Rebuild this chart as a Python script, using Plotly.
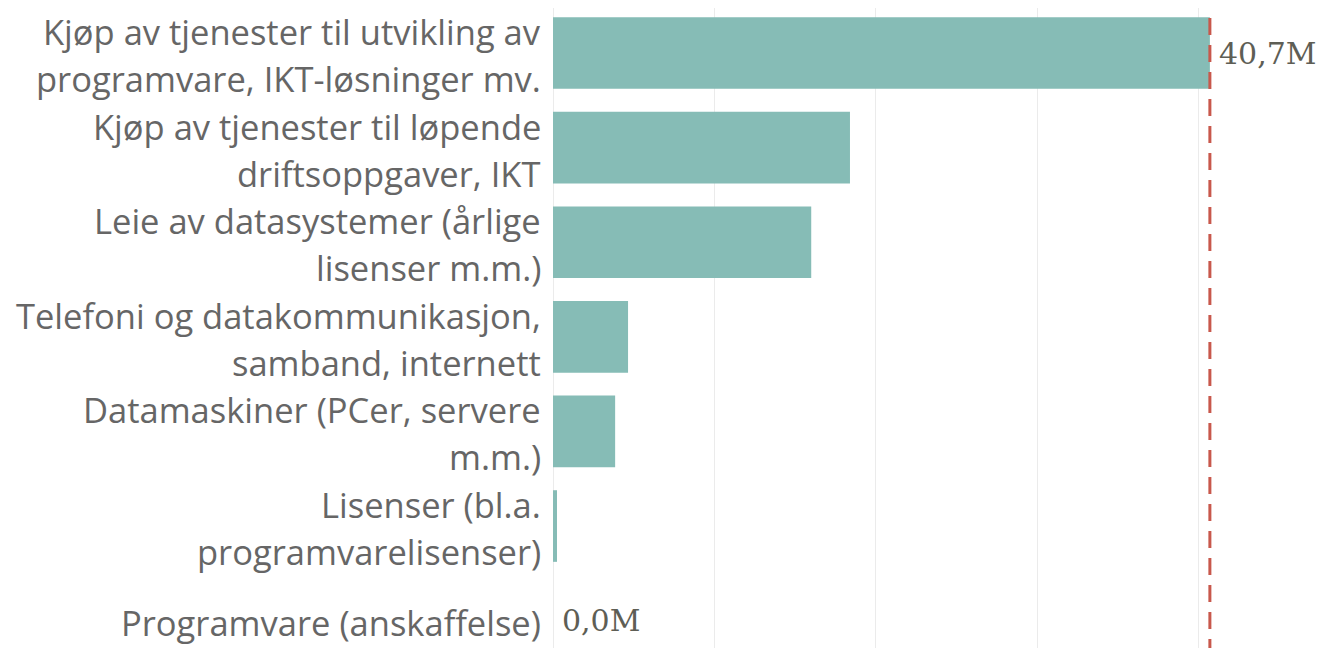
import plotly.graph_objects as go

categories = [
    "Kjøp av tjenester til utvikling av<br>programvare, IKT-løsninger mv.",
    "Kjøp av tjenester til løpende<br>driftsoppgaver, IKT",
    "Leie av datasystemer (årlige<br>lisenser m.m.)",
    "Telefoni og datakommunikasjon,<br>samband, internett",
    "Datamaskiner (PCer, servere<br>m.m.)",
    "Lisenser (bl.a.<br>programvarelisenser)",
    "Programvare (anskaffelse)",
]
values_m = [40.7, 18.4, 16.0, 4.65, 3.85, 0.25, 0.0]
value_labels = {0: "40,7M", 6: "0,0M"}
ref_value = max(values_m)

ypos = list(range(len(categories)))

fig = go.Figure()
fig.add_trace(go.Bar(
    x=values_m, y=ypos, orientation="h",
    width=0.757,
    marker=dict(color="#86bcb6", line=dict(width=0)),
    hoverinfo="skip",
))

label_font = dict(family="Open Sans", size=34.5, color="#666666")
for i, cat in enumerate(categories):
    lines = cat.split("<br>")
    n = len(lines)
    for j, ln in enumerate(lines):
        shift = (n - 1) / 2 * 47 - j * 47 - 2
        fig.add_annotation(
            x=0, xref="paper", y=i, yref="y", text=ln, showarrow=False,
            xanchor="right", yanchor="middle", xshift=-11, yshift=shift,
            borderpad=0, font=label_font,
        )

for i, txt in value_labels.items():
    fig.add_annotation(
        x=values_m[i], y=i, xref="x", yref="y", text=txt, showarrow=False,
        xanchor="left", yanchor="middle", xshift=7,
        font=dict(family="DejaVu Serif", size=30, color="#5e5e55"),
    )

fig.add_shape(
    type="line", x0=ref_value, x1=ref_value, xref="x", y0=0, y1=1, yref="paper",
    line=dict(color="#c8584c", width=3, dash="17px,10px"),
)

fig.update_layout(
    width=1331, height=648,
    margin=dict(l=545, r=0, t=0, b=0),
    paper_bgcolor="white", plot_bgcolor="white",
    showlegend=False,
    xaxis=dict(range=[0, 48.7], dtick=10, showticklabels=False, ticks="",
               showgrid=True, gridcolor="#ebebeb", gridwidth=1,
               zeroline=True, zerolinecolor="#ebebeb", zerolinewidth=1, fixedrange=True),
    yaxis=dict(range=[6.374, -0.476], showticklabels=False, showgrid=False,
               zeroline=False, ticks="", fixedrange=True),
)

fig.write_html("out.html")
